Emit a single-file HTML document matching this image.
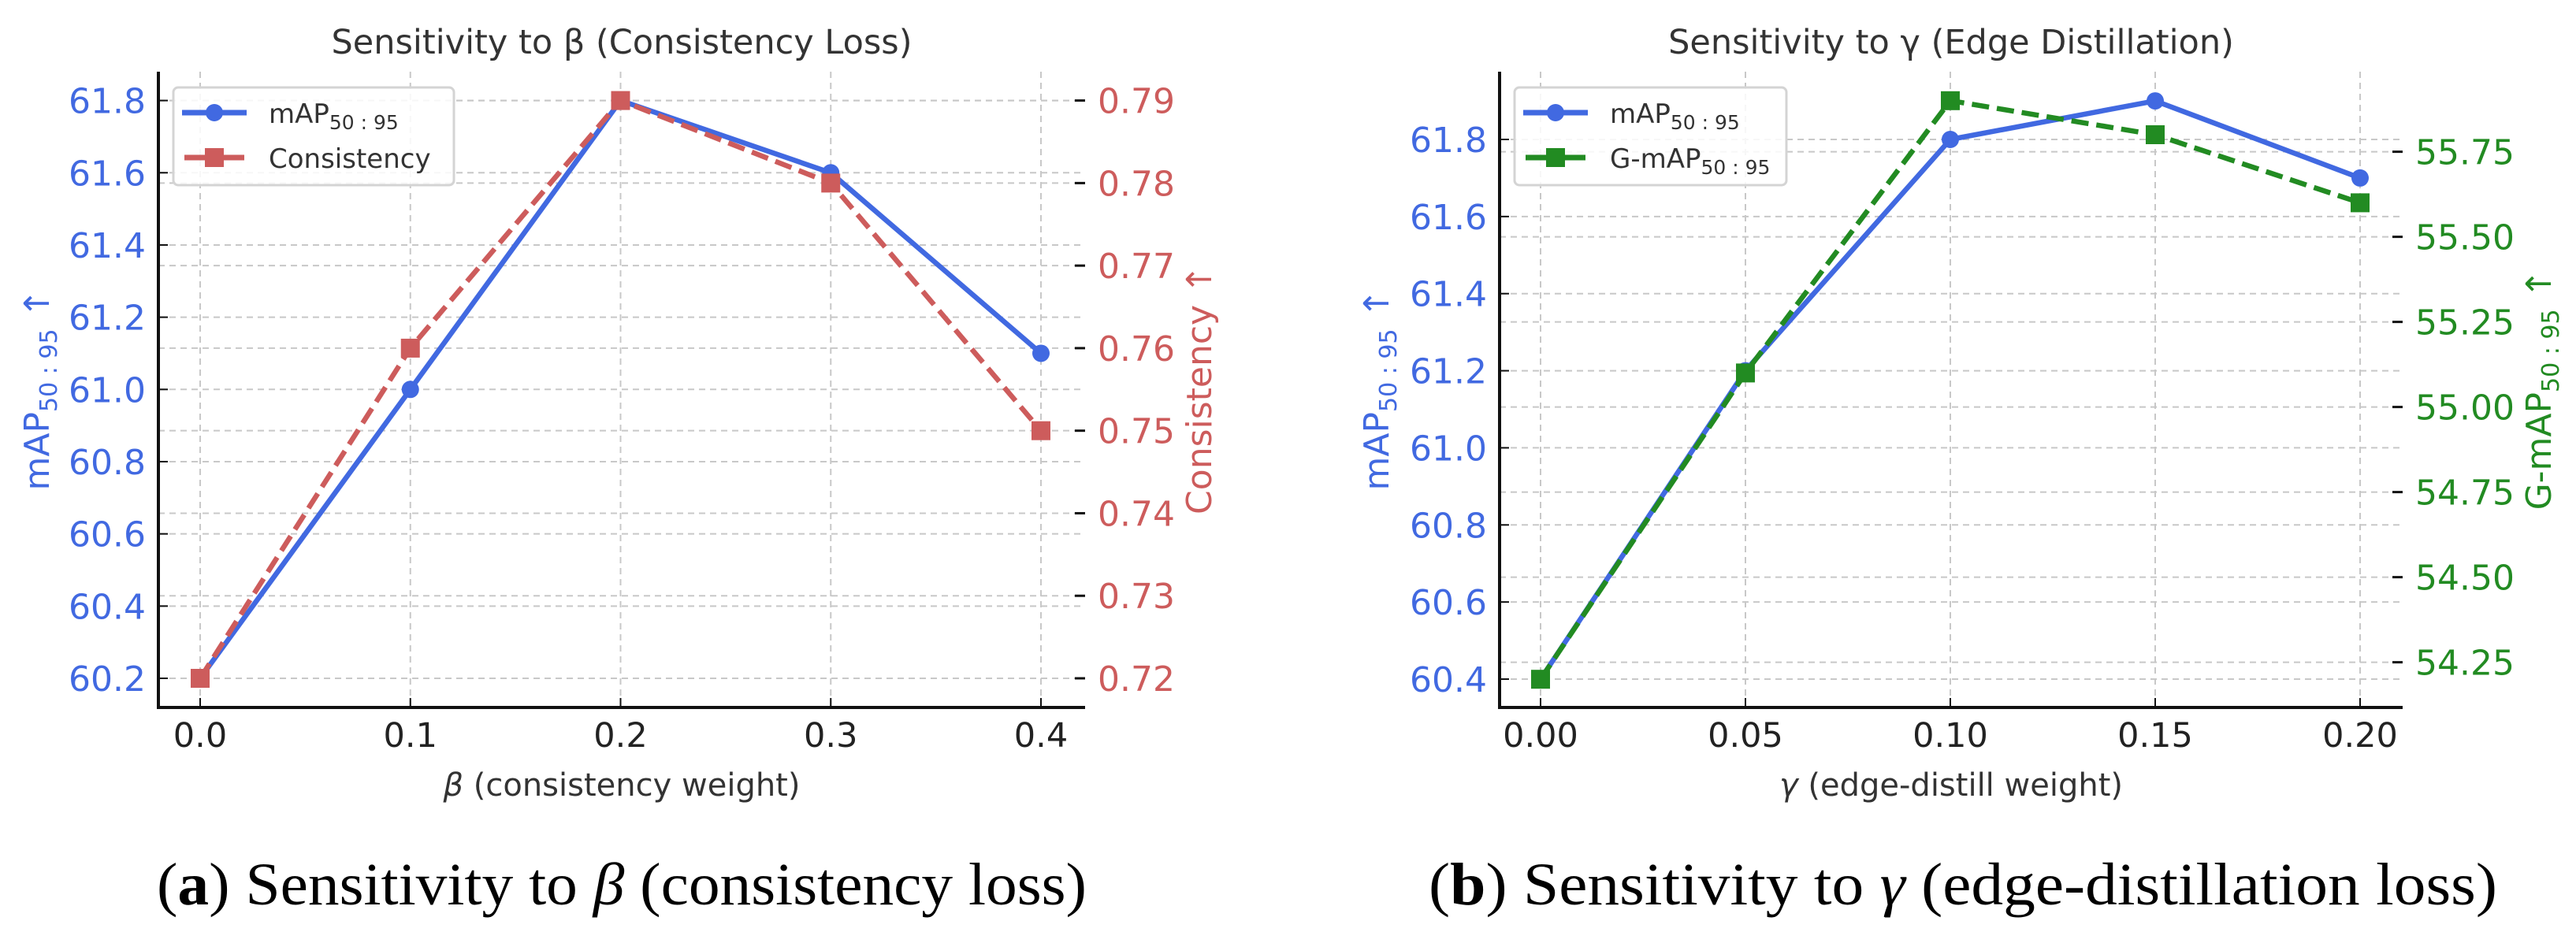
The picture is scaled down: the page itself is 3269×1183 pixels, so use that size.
<!DOCTYPE html>
<html><head><meta charset="utf-8">
<style>
html,body{margin:0;padding:0;background:#fff;}
svg{display:block;}
text{font-family:"DejaVu Sans","Liberation Sans",sans-serif;}
.cap{font-family:"Liberation Serif",serif;}
</style></head>
<body>
<svg id="fig" width="3269" height="1183" viewBox="0 0 3269 1183" xmlns="http://www.w3.org/2000/svg">
</svg>
<script>
// ---- data: chart (a) ----
const betaCats = [0.0, 0.1, 0.2, 0.3, 0.4];
const betaTickLabels = ["0.0", "0.1", "0.2", "0.3", "0.4"];
const betaMap = [60.2, 61.0, 61.8, 61.6, 61.1];
const betaConsistency = [0.72, 0.76, 0.79, 0.78, 0.75];
const betaLeftTicks = [60.2, 60.4, 60.6, 60.8, 61.0, 61.2, 61.4, 61.6, 61.8];
const betaLeftLabels = ["60.2","60.4","60.6","60.8","61.0","61.2","61.4","61.6","61.8"];
const betaRightTicks = [0.72, 0.73, 0.74, 0.75, 0.76, 0.77, 0.78, 0.79];
const betaRightLabels = ["0.72","0.73","0.74","0.75","0.76","0.77","0.78","0.79"];
// ---- data: chart (b) ----
const gammaCats = [0.00, 0.05, 0.10, 0.15, 0.20];
const gammaTickLabels = ["0.00", "0.05", "0.10", "0.15", "0.20"];
const gammaMap = [60.4, 61.2, 61.8, 61.9, 61.7];
const gammaGMap = [54.2, 55.1, 55.9, 55.8, 55.6];
const gammaLeftTicks = [60.4, 60.6, 60.8, 61.0, 61.2, 61.4, 61.6, 61.8];
const gammaLeftLabels = ["60.4","60.6","60.8","61.0","61.2","61.4","61.6","61.8"];
const gammaRightTicks = [54.25, 54.50, 54.75, 55.00, 55.25, 55.50, 55.75];
const gammaRightLabels = ["54.25","54.50","54.75","55.00","55.25","55.50","55.75"];

const NS = "http://www.w3.org/2000/svg";
const svg = document.getElementById('fig');
function mk(tag, attrs, parent, txt) {
  const e = document.createElementNS(NS, tag);
  for (const k in attrs) e.setAttribute(k, attrs[k]);
  if (txt !== undefined) e.textContent = txt;
  (parent || svg).appendChild(e);
  return e;
}
function lin(d0, d1, r0, r1) { return v => r0 + (v - d0) / (d1 - d0) * (r1 - r0); }

const BLUE = '#4169E1', RED = '#CD5C5C', GREEN = '#228B22', GRID = '#c8c8c8', DARK = '#333';

function chart(o) {
  const g = mk('g', {});
  
  
  const x = lin(o.xd[0], o.xd[1], o.xr[0], o.xr[1]);
  const yl = lin(o.yld[0], o.yld[1], o.ylr[0], o.ylr[1]);
  const yr = lin(o.yrd[0], o.yrd[1], o.yrr[0], o.yrr[1]);
  const L = o.left, R = o.right, T = o.top, B = o.bottom;
  o.cats.forEach(c => {
    const l = mk('line', {x1: x(c), x2: x(c), y1: T, y2: B, stroke: GRID, 'stroke-width': 2, 'stroke-dasharray': '8,6'}, g);
    
    
  });
  o.lt.forEach(v => {
    const l = mk('line', {x1: L, x2: R, y1: yl(v), y2: yl(v), stroke: GRID, 'stroke-width': 2, 'stroke-dasharray': '8,6'}, g);
    
    
  });
  o.rt.forEach(v => {
    const l = mk('line', {x1: L, x2: R, y1: yr(v), y2: yr(v), stroke: GRID, 'stroke-width': 2, 'stroke-dasharray': '8,6'}, g);
    
    
  });
  const sp1 = mk('line', {x1: L, x2: L, y1: T, y2: B + 2, stroke: '#111', 'stroke-width': 4}, g);
  
  
  const sp2 = mk('line', {x1: L - 2, x2: R, y1: B, y2: B, stroke: '#111', 'stroke-width': 4}, g);
  
  
  o.cats.forEach((c, i) => {
    mk('line', {x1: x(c), x2: x(c), y1: B - 12, y2: B, stroke: '#111', 'stroke-width': 2}, g);
    const t = mk('text', {x: x(c), y: B + 50, 'font-size': 43, fill: '#222', 'text-anchor': 'middle'}, g, o.xl[i]);
    
    
  });
  o.lt.forEach((v, i) => {
    mk('line', {x1: L, x2: L + 12, y1: yl(v), y2: yl(v), stroke: '#111', 'stroke-width': 2}, g);
    const t = mk('text', {x: L - 16, y: yl(v) + 16, 'font-size': 44, fill: BLUE, 'text-anchor': 'end'}, g, o.ll[i]);
    
    
  });
  o.rt.forEach((v, i) => {
    mk('line', {x1: R - 13, x2: R, y1: yr(v), y2: yr(v), stroke: '#111', 'stroke-width': 3}, g);
    const t = mk('text', {x: R + 16, y: yr(v) + 16, 'font-size': 44, fill: o.rc, 'text-anchor': 'start'}, g, o.rl[i]);
    
    
  });
  const ti = mk('text', {x: (L + R) / 2, y: 68, 'font-size': 43, fill: DARK, 'text-anchor': 'middle'}, g, o.title);
  
  
  const xlab = mk('text', {x: (L + R) / 2, y: B + 112, 'font-size': 40, fill: DARK, 'text-anchor': 'middle'}, g);
  xlab.innerHTML = o.xlabel;
  
  
  const cy = (T + B) / 2;
  const ylab = mk('text', {x: 0, y: 0, 'font-size': 44, fill: BLUE, 'text-anchor': 'middle', transform: `translate(${o.ylx},${cy}) rotate(-90)`}, g);
  ylab.innerHTML = 'mAP<tspan font-size="30" dy="10">50 : 95</tspan><tspan dy="-10"> ↑</tspan>';
  
  
  const rlab = mk('text', {x: 0, y: 0, 'font-size': 44, fill: o.rc, 'text-anchor': 'middle', transform: `translate(${o.rlx},${cy}) rotate(-90)`}, g);
  rlab.innerHTML = o.rlabel;
  
  
  const p1 = o.cats.map((c, i) => x(c) + ',' + yl(o.s1[i])).join(' ');
  const l1 = mk('polyline', {points: p1, fill: 'none', stroke: BLUE, 'stroke-width': 6.5, 'stroke-linejoin': 'round'}, g);
  
  
  const p2 = o.cats.map((c, i) => x(c) + ',' + yr(o.s2[i])).join(' ');
  const l2 = mk('polyline', {points: p2, fill: 'none', stroke: o.rc, 'stroke-width': 6.5, 'stroke-dasharray': '22,10'}, g);
  
  
  o.cats.forEach((c, i) => {
    const m = mk('circle', {cx: x(c), cy: yl(o.s1[i]), r: 11, fill: BLUE}, g);
    
    
  });
  o.cats.forEach((c, i) => {
    const m = mk('rect', {x: x(c) - 12, y: yr(o.s2[i]) - 12, width: 24, height: 24, fill: o.rc}, g);
    
    
  });
  const lg = mk('g', {}, g);
  
  
  const lx = o.legX, ly = 111;
  mk('rect', {x: lx, y: ly, width: o.legW, height: 124, rx: 6, fill: 'rgba(255,255,255,0.85)', stroke: '#d4d4d4', 'stroke-width': 3}, lg);
  mk('line', {x1: lx + 11, x2: lx + 93, y1: ly + 32, y2: ly + 32, stroke: BLUE, 'stroke-width': 7}, lg);
  mk('circle', {cx: lx + 52, cy: ly + 32, r: 11, fill: BLUE}, lg);
  const e1 = mk('text', {x: lx + 121, y: ly + 45, 'font-size': 34, fill: DARK}, lg);
  e1.innerHTML = 'mAP<tspan font-size="25" dy="8">50 : 95</tspan>';
  
  
  mk('line', {x1: lx + 14, x2: lx + 90, y1: ly + 89, y2: ly + 89, stroke: o.rc, 'stroke-width': 7}, lg);
  mk('rect', {x: lx + 40, y: ly + 77, width: 24, height: 24, fill: o.rc}, lg);
  const e2 = mk('text', {x: lx + 121, y: ly + 102, 'font-size': 34, fill: DARK}, lg);
  e2.innerHTML = o.leg2;
  
  
}

chart({
  name: 'chart-beta', cats: betaCats, xl: betaTickLabels, s1: betaMap, s2: betaConsistency,
  lt: betaLeftTicks, ll: betaLeftLabels, rt: betaRightTicks, rl: betaRightLabels,
  xd: [0, 0.4], xr: [254, 1321], yld: [60.2, 61.8], ylr: [861, 127.6], yrd: [0.72, 0.79], yrr: [861, 127.6],
  left: 201, right: 1377, top: 91, bottom: 898, rc: RED,
  title: 'Sensitivity to β (Consistency Loss)',
  xlabel: '<tspan font-style="italic">β</tspan> (consistency weight)',
  rlabel: 'Consistency ↑', ylx: 62, rlx: 1537,
  legX: 220, legW: 356, leg2: 'Consistency'
});
chart({
  name: 'chart-gamma', cats: gammaCats, xl: gammaTickLabels, s1: gammaMap, s2: gammaGMap,
  lt: gammaLeftTicks, ll: gammaLeftLabels, rt: gammaRightTicks, rl: gammaRightLabels,
  xd: [0, 0.2], xr: [1955, 2995], yld: [60.4, 61.8], ylr: [862, 177], yrd: [54.25, 55.75], yrr: [840.6, 192.6],
  left: 1903, right: 3049, top: 91, bottom: 898, rc: GREEN,
  title: 'Sensitivity to γ (Edge Distillation)',
  xlabel: '<tspan font-style="italic">γ</tspan> (edge-distill weight)',
  rlabel: 'G-mAP<tspan font-size="30" dy="10">50 : 95</tspan><tspan dy="-10"> ↑</tspan>', ylx: 1762, rlx: 3237,
  legX: 1922, legW: 345, leg2: 'G-mAP<tspan font-size="25" dy="8">50 : 95</tspan>'
});

const ca = mk('text', {class: 'cap', x: 789, y: 1148, 'font-size': 76, 'text-anchor': 'middle', textLength: 1180, lengthAdjust: 'spacingAndGlyphs'});
ca.innerHTML = '(<tspan font-weight="bold">a</tspan>) Sensitivity to <tspan font-style="italic">β</tspan> (consistency loss)';


const cb = mk('text', {class: 'cap', x: 2491, y: 1148, 'font-size': 76, 'text-anchor': 'middle', textLength: 1356, lengthAdjust: 'spacingAndGlyphs'});
cb.innerHTML = '(<tspan font-weight="bold">b</tspan>) Sensitivity to <tspan font-style="italic">γ</tspan> (edge-distillation loss)';


</script>
</body></html>
